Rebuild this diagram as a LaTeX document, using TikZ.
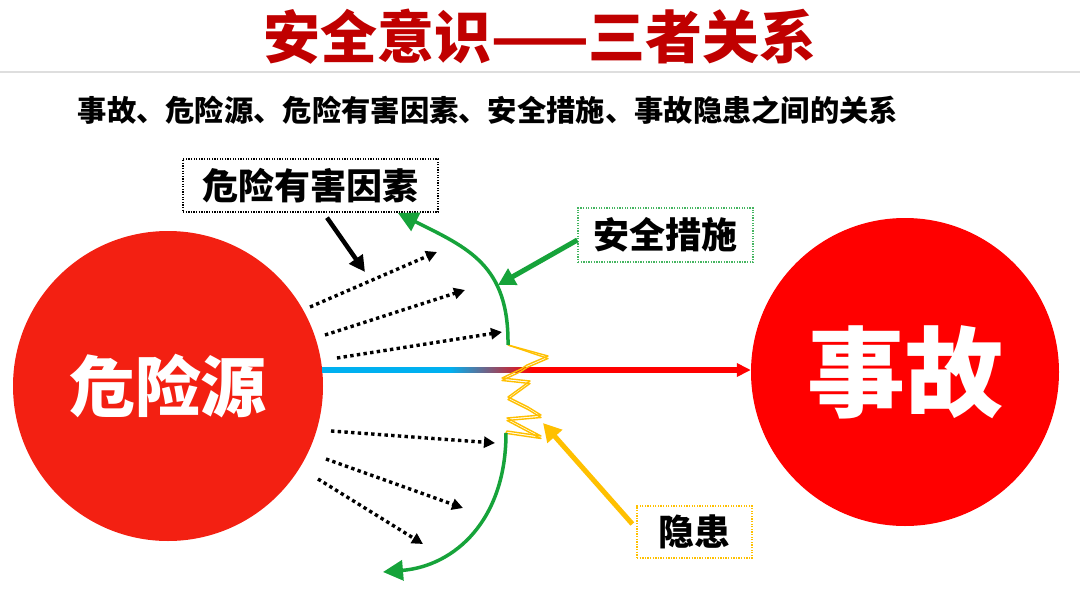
\documentclass[tikz,border=0pt]{standalone}
\usepackage{fontspec}
\newfontfamily\cjk{Noto Sans CJK SC}
\usetikzlibrary{arrows.meta,calc}
\definecolor{titlered}{RGB}{192,0,0}
\definecolor{srcred}{RGB}{243,32,18}
\definecolor{accred}{RGB}{255,0,0}
\definecolor{sgreen}{RGB}{22,163,58}
\definecolor{syellow}{RGB}{255,192,0}
\definecolor{sblue}{RGB}{0,176,240}
\begin{document}
\begin{tikzpicture}[x=1pt,y=-1pt,
  lblbox/.style={font=\cjk\bfseries\fontsize{36}{40}\selectfont, inner sep=0pt,
     text=black, line width=1.3pt, dash pattern=on 1.3pt off 1.3pt},
  ray/.style={black, line width=3.4pt, dash pattern=on 3.4pt off 3.3pt,
     -{Triangle[length=11pt,width=11pt]}},
  bigcirc/.style={circle, inner sep=0pt, text=white},
  guard/.style={sgreen, line width=3.5pt, -{Triangle[length=20pt,width=20pt]}},
  zig/.style={syellow, line width=1.4pt, line join=round}
]
\useasboundingbox (0,0) rectangle (1080,608);
\fill[white] (0,0) rectangle (1080,608);

% title and subtitle
\node[font=\cjk\bfseries\fontsize{57}{60}\selectfont, text=titlered, inner sep=0pt] (title) at (540,37) {安全意识——三者关系};
\coordinate (sepL) at (0,72);
\coordinate (sepR) at (1080,72);
\draw[black!13, line width=1.5pt] (sepL) -- (sepR);
\node[font=\cjk\bfseries\fontsize{29.3}{34}\selectfont, inner sep=0pt] (sub) at (488,110) {事故、危险源、危险有害因素、安全措施、事故隐患之间的关系};

% circles
\node[bigcirc, fill=srcred, minimum size=310pt, font=\cjk\bfseries\fontsize{66}{70}\selectfont] (src) at (168,386) {危险源};
\node[bigcirc, fill=accred, minimum size=308pt, font=\cjk\bfseries\fontsize{98}{100}\selectfont] (acc) at (905,372) {事故};

% label boxes
\node[lblbox, draw=black, minimum width=255pt, minimum height=53pt] (hazard) at (310.5,185.5) {危险有害因素};
\node[lblbox, draw=sgreen!80!white, minimum width=175pt, minimum height=54pt] (measure) at (665.5,235) {安全措施};
\node[lblbox, draw=syellow, minimum width=115pt, minimum height=52pt] (hidden) at (694.5,532) {隐患};

% main line: blue -> gradient -> red
\coordinate (hs) at (322,370);
\coordinate (g1) at (450,370);
\coordinate (g2) at (532,370);
\draw[sblue, line width=5.3pt] (hs) -- (g1);
\shade[left color=sblue, right color=accred] (450,367.35) rectangle (532.5,372.65);
\draw[accred, line width=5.3pt, -{Triangle[length=14pt,width=13pt]}] (g2) -- (acc.west |- g2);

% zigzag (hidden danger)
\coordinate (zA) at (508,345);
\coordinate (zB) at (506,433);
\foreach \dy in {0,2.5}{
\draw[zig, yshift=-\dy pt] (zA) -- (548,356) -- (527,365) -- (521,369) -- (502,378) -- (530,381) -- (508,397)
  -- (528,407) -- (541,415) -- (507,418) -- (541,436) -- (507,431) -- (zB);
}

% green barrier arcs
\draw[guard] (zA) .. controls (509,265) and (468,248) .. (398,213);
\draw[guard] (zB) .. controls (506,520) and (455,566) .. (383,572);

% dotted rays from the hazard source
\coordinate (r1s) at (310,307); \coordinate (r1e) at (437,252);
\coordinate (r2s) at (325,335); \coordinate (r2e) at (465,290);
\coordinate (r3s) at (337,358); \coordinate (r3e) at (502,332);
\coordinate (r4s) at (331,431); \coordinate (r4e) at (495,443);
\coordinate (r5s) at (326,459); \coordinate (r5e) at (463,508);
\coordinate (r6s) at (318,479); \coordinate (r6e) at (423,544);
\draw[ray] (r1s) -- (r1e);
\draw[ray] (r2s) -- (r2e);
\draw[ray] (r3s) -- (r3e);
\draw[ray] (r4s) -- (r4e);
\draw[ray] (r5s) -- (r5e);
\draw[ray] (r6s) -- (r6e);

% pointer arrows
\coordinate (hzp) at (365,272);
\draw[black, line width=4.5pt, -{Triangle[length=16pt,width=16pt]}] ([xshift=16.5pt,yshift=-5pt]hazard.south) -- (hzp);
\coordinate (msp) at (498,285);
\draw[sgreen, line width=5pt, -{Triangle[length=17pt,width=18pt]}] ([yshift=-5pt]measure.west) -- (msp);
\coordinate (hdp) at (543,423);
\draw[syellow, line width=5pt, -{Triangle[length=18pt,width=19pt]}] ([xshift=-4pt,yshift=8pt]hidden.west) -- (hdp);
\end{tikzpicture}
\end{document}
